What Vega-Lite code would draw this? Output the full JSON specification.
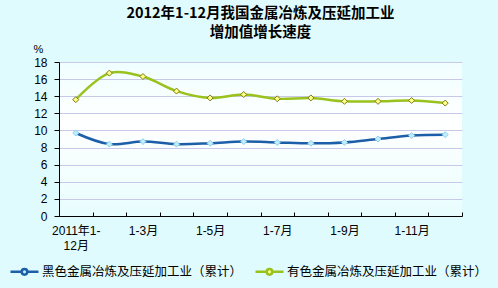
{
  "$schema": "https://vega.github.io/schema/vega-lite/v6.json",
  "width": 403,
  "height": 154,
  "autosize": {"type": "none"},
  "padding": {"left": 59, "top": 62, "right": 36, "bottom": 72},
  "background": "#e0fbfd",
  "title": {
    "text": ["2012年1-12月我国金属冶炼及压延加工业", "增加值增长速度"],
    "font": "Noto Sans CJK SC",
    "fontSize": 14.5,
    "fontWeight": "bold",
    "color": "#000000",
    "anchor": "middle",
    "frame": "group",
    "offset": 3,
    "lineHeight": 19
  },
  "config": {
    "view": {
      "stroke": null,
      "fill": {
        "gradient": "linear",
        "x1": 0, "y1": 0, "x2": 0, "y2": 1,
        "stops": [
          {"offset": 0, "color": "#f0feff"},
          {"offset": 0.4, "color": "#ffffff"},
          {"offset": 1, "color": "#e8fdfe"}
        ]
      }
    },
    "font": "Liberation Sans, Noto Sans CJK SC",
    "axis": {"labelColor": "#000000", "labelFontSize": 12, "labelFont": "Liberation Sans, Noto Sans CJK SC"}
  },
  "data": {
    "values": [
      {"month": "2011年1-12月", "series": "黑色金属冶炼及压延加工业（累计）", "value": 9.7},
      {"month": "1-2月", "series": "黑色金属冶炼及压延加工业（累计）", "value": 8.4},
      {"month": "1-3月", "series": "黑色金属冶炼及压延加工业（累计）", "value": 8.7},
      {"month": "1-4月", "series": "黑色金属冶炼及压延加工业（累计）", "value": 8.4},
      {"month": "1-5月", "series": "黑色金属冶炼及压延加工业（累计）", "value": 8.5},
      {"month": "1-6月", "series": "黑色金属冶炼及压延加工业（累计）", "value": 8.7},
      {"month": "1-7月", "series": "黑色金属冶炼及压延加工业（累计）", "value": 8.6},
      {"month": "1-8月", "series": "黑色金属冶炼及压延加工业（累计）", "value": 8.5},
      {"month": "1-9月", "series": "黑色金属冶炼及压延加工业（累计）", "value": 8.6},
      {"month": "1-10月", "series": "黑色金属冶炼及压延加工业（累计）", "value": 9.0},
      {"month": "1-11月", "series": "黑色金属冶炼及压延加工业（累计）", "value": 9.4},
      {"month": "1-12月", "series": "黑色金属冶炼及压延加工业（累计）", "value": 9.5},
      {"month": "2011年1-12月", "series": "有色金属冶炼及压延加工业（累计）", "value": 13.6},
      {"month": "1-2月", "series": "有色金属冶炼及压延加工业（累计）", "value": 16.7},
      {"month": "1-3月", "series": "有色金属冶炼及压延加工业（累计）", "value": 16.3},
      {"month": "1-4月", "series": "有色金属冶炼及压延加工业（累计）", "value": 14.6},
      {"month": "1-5月", "series": "有色金属冶炼及压延加工业（累计）", "value": 13.8},
      {"month": "1-6月", "series": "有色金属冶炼及压延加工业（累计）", "value": 14.2},
      {"month": "1-7月", "series": "有色金属冶炼及压延加工业（累计）", "value": 13.7},
      {"month": "1-8月", "series": "有色金属冶炼及压延加工业（累计）", "value": 13.8},
      {"month": "1-9月", "series": "有色金属冶炼及压延加工业（累计）", "value": 13.4},
      {"month": "1-10月", "series": "有色金属冶炼及压延加工业（累计）", "value": 13.4},
      {"month": "1-11月", "series": "有色金属冶炼及压延加工业（累计）", "value": 13.5},
      {"month": "1-12月", "series": "有色金属冶炼及压延加工业（累计）", "value": 13.2}
    ]
  },
  "encoding": {
    "x": {
      "field": "month",
      "type": "ordinal",
      "sort": null,
      "bandPosition": 0.5,
      "scale": {"type": "band", "paddingInner": 0, "paddingOuter": 0},
      "axis": {
        "title": null,
        "labelAngle": 0,
        "labelOverlap": false,
        "labelPadding": 13,
        "labelLineHeight": 15,
        "labelBaseline": "top",
        "tickBand": "extent",
        "tickSize": -4,
        "ticks": true,
        "tickColor": "#000000",
        "domainColor": "#000000",
        "domainWidth": 1,
        "grid": false,
        "labelExpr": "datum.value == '2011年1-12月' ? ['2011年1-', '12月'] : (indexof(['1-3月','1-5月','1-7月','1-9月','1-11月'], datum.value) >= 0 ? datum.label : '')"
      }
    },
    "y": {
      "field": "value",
      "type": "quantitative",
      "scale": {"domain": [0, 18]},
      "axis": {
        "values": [0, 2, 4, 6, 8, 10, 12, 14, 16, 18],
        "title": "%",
        "titleAngle": 0,
        "titleAlign": "left",
        "titleBaseline": "top",
        "titleX": -26,
        "titleY": -19,
        "titleFontSize": 11,
        "titleFontWeight": "normal",
        "titleFont": "Liberation Sans",
        "labelPadding": 7,
        "tickSize": 5,
        "tickColor": "#000000",
        "domainColor": "#000000",
        "gridColor": "#c8c8e8",
        "gridWidth": 1
      }
    }
  },
  "layer": [
    {
      "mark": {"type": "line", "interpolate": "catmull-rom", "strokeWidth": 2.5},
      "encoding": {
        "color": {
          "field": "series",
          "type": "nominal",
          "scale": {"domain": ["黑色金属冶炼及压延加工业（累计）", "有色金属冶炼及压延加工业（累计）"], "range": ["#1c5fa8", "#99c21c"]},
          "legend": {
            "title": null,
            "orient": "none",
            "legendX": -50,
            "legendY": 194,
            "direction": "horizontal",
            "labelFontSize": 12.5,
            "labelFont": "Noto Sans CJK SC",
            "labelColor": "#000000",
            "labelLimit": 400,
            "labelOffset": 2,
            "columnPadding": 7,
            "symbolType": "M-1,0L-0.22,0M0.22,0L1,0M0.2,0A0.2,0.2 0 1,0 -0.2,0A0.2,0.2 0 1,0 0.2,0",
            "symbolSize": 784,
            "symbolStrokeWidth": 2.5,
            "symbolFillColor": "#eefcff"
          }
        }
      }
    },
    {
      "mark": {"type": "point", "shape": "diamond", "filled": true, "size": 36, "strokeWidth": 1, "opacity": 1},
      "encoding": {
        "fill": {
          "field": "series",
          "type": "nominal",
          "scale": {"domain": ["黑色金属冶炼及压延加工业（累计）", "有色金属冶炼及压延加工业（累计）"], "range": ["#bfeeff", "#ffff88"]},
          "legend": null
        },
        "stroke": {
          "field": "series",
          "type": "nominal",
          "scale": {"domain": ["黑色金属冶炼及压延加工业（累计）", "有色金属冶炼及压延加工业（累计）"], "range": ["#8ccff0", "#7a7a10"]},
          "legend": null
        }
      }
    }
  ]
}
